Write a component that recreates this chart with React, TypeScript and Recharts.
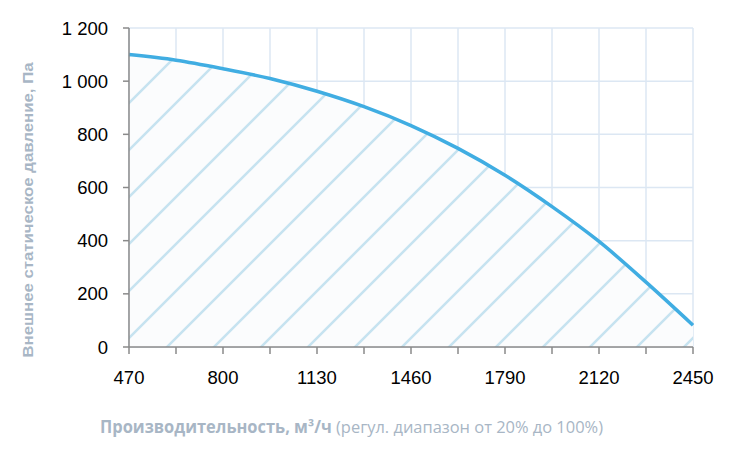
import React from 'react';
import { AreaChart, Area, XAxis, YAxis, CartesianGrid, Label } from 'recharts';

// Airflow (m³/h) at each x tick, and the static pressure
const flowTicks = [470, 635, 800, 965, 1130, 1295, 1460, 1625, 1790, 1955, 2120, 2285, 2450];
const pressure = [1100, 1079, 1047, 1010, 962, 904, 833, 747, 646, 528, 397, 244, 82];
const labeledFlows = [470, 800, 1130, 1460, 1790, 2120, 2450];
const pressureTicks = [0, 200, 400, 600, 800, 1000, 1200];

const yTitle = 'Внешнее статическое давление, Па';
const xTitleBold = 'Производительность, м³/ч';
const xTitleNote = ' (регул. диапазон от 20% до 100%)';

const data = flowTicks.map((flow, i) => ({ flow, pressure: pressure[i] }));

const formatPressure = (v: number) =>
  v >= 1000 ? `${Math.floor(v / 1000)} ${String(v % 1000).padStart(3, '0')}` : String(v);

const tickFont = { fontFamily: '"Liberation Sans", Arial, sans-serif', fontSize: 18.5, fill: '#000' };
const titleColor = '#a8b6c5';

export default function App() {
  return (
    <div style={{ position: 'absolute', left: 0, top: 0, width: 732, height: 467, background: '#fff' }}>
      <AreaChart width={732} height={467} data={data} margin={{ top: 28, right: 39, bottom: 60, left: 0 }}>
        <defs>
          <pattern id="hatch" patternUnits="userSpaceOnUse" x={-3} y={0} width={47} height={47}>
            <rect width={47} height={47} fill="#fbfcfd" />
            <path d="M0,47 L47,0 M-10,10 L10,-10 M37,57 L57,37" stroke="#c6e3f0" strokeWidth={2.5} />
          </pattern>
        </defs>
        <CartesianGrid stroke="#dce7f3" strokeWidth={1.5} />
        <XAxis
          dataKey="flow"
          type="number"
          domain={[470, 2450]}
          ticks={flowTicks}
          interval={0}
          tickFormatter={(v) => (labeledFlows.includes(v) ? String(v) : '')}
          stroke="#8a8a8a"
          strokeWidth={1.5}
          tickSize={7}
          tickMargin={17}
          tick={tickFont}
          height={60}
        >
          <Label
            content={() => (
              <text
                x={100}
                y={433}
                fontFamily='"Open Sans", "Noto Sans", sans-serif'
                fontSize={17}
                fill={titleColor}
                textLength={503}
                lengthAdjust="spacingAndGlyphs"
              >
                <tspan fontWeight="bold">{xTitleBold}</tspan>
                <tspan>{xTitleNote}</tspan>
              </text>
            )}
          />
        </XAxis>
        <YAxis
          type="number"
          domain={[0, 1200]}
          ticks={pressureTicks}
          interval={0}
          tickFormatter={formatPressure}
          stroke="#8a8a8a"
          strokeWidth={1.5}
          tickSize={6}
          tickMargin={15}
          tick={tickFont}
          width={129}
        >
          <Label
            content={() => (
              <text
                x={27}
                y={210}
                transform="rotate(-90 27 210)"
                textAnchor="middle"
                dominantBaseline="central"
                fontFamily='"Liberation Sans", Arial, sans-serif'
                fontWeight="bold"
                fontSize={15}
                fill={titleColor}
                textLength={295}
                lengthAdjust="spacingAndGlyphs"
              >
                {yTitle}
              </text>
            )}
          />
        </YAxis>
        <Area
          type="monotone"
          dataKey="pressure"
          stroke="#40ade2"
          strokeWidth={3.5}
          fill="url(#hatch)"
          fillOpacity={1}
          isAnimationActive={false}
        />
      </AreaChart>
    </div>
  );
}
